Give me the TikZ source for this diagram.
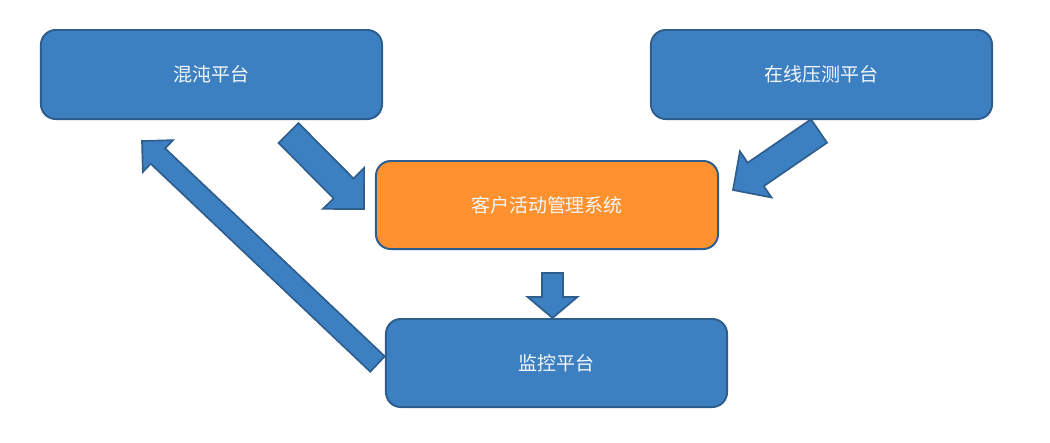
\documentclass[tikz,border=0pt]{standalone}
\usepackage{fontspec}
\newfontfamily\cjk{Noto Sans CJK SC}
\usetikzlibrary{calc}
\definecolor{boxblue}{HTML}{3D80C1}
\definecolor{lineblue}{HTML}{2E5E8E}
\definecolor{boxorange}{HTML}{FF922E}
\definecolor{txt}{HTML}{F4F7FB}
\tikzset{
  plat/.style={draw=lineblue, line width=1.4pt, fill=boxblue, rounded corners=10.5pt,
    minimum width=8.525cm, minimum height=2.225cm, inner sep=0pt,
    text=txt, font=\cjk\fontsize{13.5}{16}\selectfont},
  sysbox/.style={plat, fill=boxorange, minimum width=8.55cm, minimum height=2.2cm},
  barrow/.style={draw=lineblue, line width=1.2pt, fill=boxblue, line join=miter}
}
\newcommand\blockarrow[5]{%
  \coordinate (ba-h) at ($(#2)!#5!(#1)$);
  \filldraw[barrow] ($(#1)!#3!90:(#2)$) -- ($(ba-h)!#3!-90:(#1)$) -- ($(ba-h)!#4!-90:(#1)$) -- (#2)
    -- ($(ba-h)!#4!90:(#1)$) -- ($(ba-h)!#3!90:(#1)$) -- ($(#1)!#3!-90:(#2)$) -- cycle;}
\begin{document}
\begin{tikzpicture}[x=0.025cm, y=-0.025cm]
\useasboundingbox (0,0) rectangle (1050,442);
% arrow end points
\coordinate (a1s) at (288.5,133);
\coordinate (a1e) at (364,209);
\coordinate (a2s) at (819,131);
\coordinate (a2e) at (733,190);
\coordinate (a3s) at (552.5,273);
\coordinate (a3e) at (552.5,318);
\coordinate (a4s) at (377.5,364);
\coordinate (a4e) at (142,141);
\blockarrow{a1s}{a1e}{10pt}{20.6pt}{20.6pt}
\blockarrow{a2s}{a2e}{10.1pt}{19.9pt}{19.6pt}
\blockarrow{a4s}{a4e}{7.5pt}{15.6pt}{15.6pt}
% boxes
\node[plat] (hd) at (211.5,74.5) {混沌平台};
\node[plat] (zx) at (821.5,74.5) {在线压测平台};
\node[sysbox] (kh) at (547,205) {客户活动管理系统};
\node[plat, minimum height=2.2cm] (jk) at (556.5,363) {监控平台};
\blockarrow{a3s}{a3e}{7.5pt}{17.8pt}{15pt}
\end{tikzpicture}
\end{document}
